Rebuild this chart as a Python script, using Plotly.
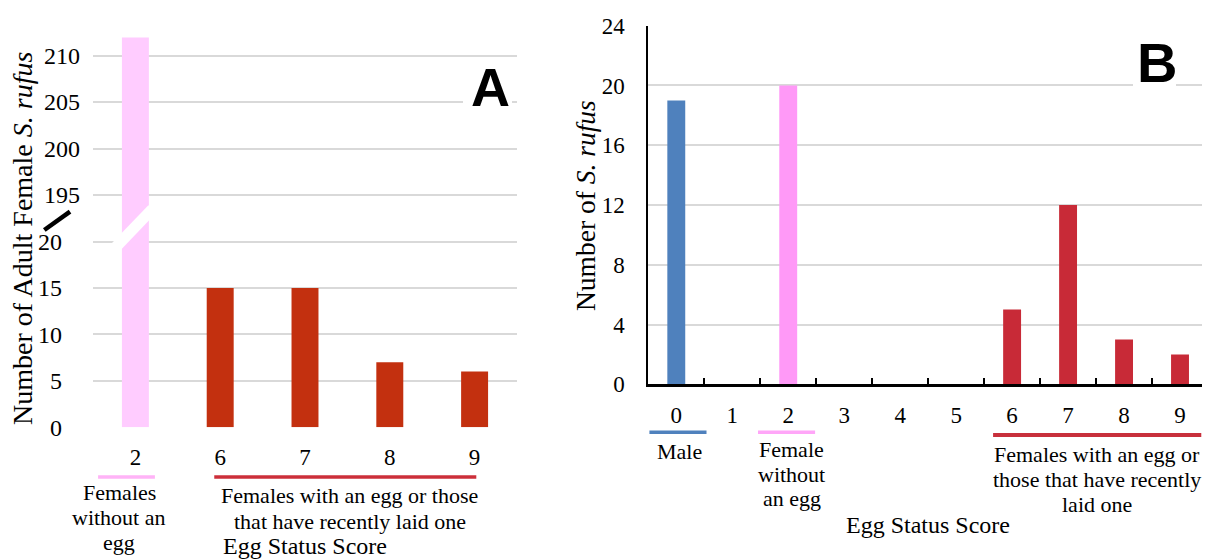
import plotly.graph_objects as go

# ---------------- data ----------------
a_scores = ["2", "6", "7", "8", "9"]
a_counts = [212, 15, 15, 7, 6]
a_groups = ["without", "with", "with", "with", "with"]
a_tick_values = [0, 5, 10, 15, 20, 195, 200, 205, 210]

b_scores = ["0", "1", "2", "3", "4", "5", "6", "7", "8", "9"]
b_counts = [19, 0, 20, 0, 0, 0, 5, 12, 3, 2]
b_groups = ["male", "none", "without", "none", "none", "none", "with", "with", "with", "with"]
b_tick_values = [0, 4, 8, 12, 16, 20, 24]

A_COLORS = {"without": "#FFCCFF", "with": "#C3300F"}
B_COLORS = {"male": "#4F81BD", "without": "#FF99F7", "with": "#C82A37", "none": "#FFFFFF"}

# axis break for panel A: values above 20 jump to 195
BREAK_LOW, BREAK_HIGH, BREAK_STEP = 20, 195, 5


def a_display(v):
    return v if v <= BREAK_LOW else v - (BREAK_HIGH - BREAK_LOW - BREAK_STEP)


# the page body has an 8px margin; size the figure so it fills the window
PAGE_W, PAGE_H, BODY_MARGIN = 1210, 560, 8
W, H = PAGE_W - BODY_MARGIN, PAGE_H - BODY_MARGIN
SERIF = "Liberation Serif"
SANS = "Liberation Sans"


def px(x):
    return (x - BODY_MARGIN) / W


def py(y):
    return 1 - (y - BODY_MARGIN) / H


fig = go.Figure()

fig.add_trace(go.Bar(
    x=a_scores, y=[a_display(v) for v in a_counts],
    marker=dict(color=[A_COLORS[g] for g in a_groups], line=dict(width=0)),
    width=0.318, xaxis="x", yaxis="y", showlegend=False,
))
fig.add_trace(go.Bar(
    x=b_scores, y=b_counts,
    marker=dict(color=[B_COLORS[g] for g in b_groups], line=dict(width=0)),
    width=0.32, xaxis="x2", yaxis="y2", showlegend=False,
))

a_disp_ticks = [a_display(v) for v in a_tick_values]
a_ticktext = [str(v) if v <= BREAK_LOW else "" for v in a_tick_values]

fig.update_layout(
    width=W, height=H,
    margin=dict(l=0, r=0, t=0, b=0, autoexpand=False),
    paper_bgcolor="white", plot_bgcolor="white",
    barmode="overlay",
    font=dict(family=SERIF, color="black"),
    xaxis=dict(
        domain=[px(93), px(517)], anchor="y", automargin=False,
        type="category", categoryorder="array", categoryarray=a_scores,
        range=[-0.5, len(a_scores) - 0.5],
        showgrid=False, showline=False, zeroline=False, ticks="",
        tickfont=dict(family=SERIF, size=23, color="black"),
        ticklabelstandoff=14,
    ),
    yaxis=dict(
        domain=[py(427.3), py(36.7)], anchor="x", automargin=False,
        range=[0, 42.08],
        tickvals=a_disp_ticks, ticktext=a_ticktext,
        showgrid=True, gridcolor="#D9D9D9", gridwidth=1.6,
        showline=False, zeroline=False, ticks="",
        tickfont=dict(family=SERIF, size=24, color="black"),
        ticklabelstandoff=30,
    ),
    xaxis2=dict(
        domain=[px(648.3), px(1208)], anchor="y2", automargin=False,
        type="category", categoryorder="array", categoryarray=b_scores,
        range=[-0.5, len(b_scores) - 0.5],
        showgrid=False, zeroline=False,
        showline=True, linecolor="black", linewidth=2.5,
        ticks="inside", tickson="boundaries", ticklen=7, tickwidth=2, tickcolor="black",
        tickfont=dict(family=SERIF, size=23, color="black"),
        ticklabelstandoff=8,
    ),
    yaxis2=dict(
        domain=[py(384.3), py(25.7)], anchor="x2", automargin=False,
        range=[0, 24], tickvals=b_tick_values,
        showgrid=True, gridcolor="#D9D9D9", gridwidth=1.6,
        showline=True, linecolor="black", linewidth=2, zeroline=False, ticks="",
        tickfont=dict(family=SERIF, size=23, color="black"),
        ticklabelstandoff=17,
    ),
)

shapes = []
# panel A: white break band across the tall bar
shapes.append(dict(type="line", xref="x", yref="y",
                   x0=-0.24, y0=19.33, x1=0.2, y1=23.52,
                   line=dict(color="white", width=11), layer="above"))
# panel A: black break slash on the axis
shapes.append(dict(type="line", xref="paper", yref="paper",
                   x0=px(44.3), y0=py(230), x1=px(70), y1=py(211.7),
                   line=dict(color="black", width=4.5), layer="above"))
# white boxes behind panel letters
shapes.append(dict(type="rect", xref="paper", yref="paper",
                   x0=px(463), x1=px(512), y0=py(105), y1=py(62),
                   fillcolor="white", line=dict(width=0), layer="above"))
shapes.append(dict(type="rect", xref="paper", yref="paper",
                   x0=px(1133), x1=px(1176), y0=py(90), y1=py(33),
                   fillcolor="white", line=dict(width=0), layer="above"))
# group underlines, panel A
shapes.append(dict(type="line", xref="x", yref="paper", x0=-0.44, x1=0.23,
                   y0=py(477), y1=py(477), line=dict(color="#FFB3F7", width=3.5)))
shapes.append(dict(type="line", xref="x", yref="paper", x0=0.93, x1=4.02,
                   y0=py(477), y1=py(477), line=dict(color="#CC2F3A", width=3.5)))
# group underlines, panel B
shapes.append(dict(type="line", xref="x2", yref="paper", x0=-0.48, x1=0.54,
                   y0=py(432.3), y1=py(432.3), line=dict(color="#4F81BD", width=3.5)))
shapes.append(dict(type="line", xref="x2", yref="paper", x0=1.46, x1=2.48,
                   y0=py(432.3), y1=py(432.3), line=dict(color="#FFA6F8", width=3.5)))
shapes.append(dict(type="line", xref="x2", yref="paper", x0=5.66, x1=9.38,
                   y0=py(435), y1=py(435), line=dict(color="#C8303C", width=4)))
fig.update_layout(shapes=shapes)

ann = []


def text(x, y, s, size=22, xref="paper", yref="paper", **kw):
    d = dict(x=x, y=y, xref=xref, yref=yref, text=s, showarrow=False,
             font=dict(family=SERIF, size=size, color="black"),
             xanchor="center", yanchor="middle")
    d.update(kw)
    ann.append(d)


# panel A upper tick labels (above the break)
for v in a_tick_values:
    if v > BREAK_LOW:
        text(px(81.5), a_display(v), str(v), size=24, yref="y", xanchor="right")

# titles
text(px(22.5), py(238.5), "Number of Adult Female <i>S. rufus</i>", size=28, textangle=-90)
text(px(585), py(206), "Number of <i>S. rufus</i>", size=27.5, textangle=-90)
text(0.5, py(545.9), "Egg Status Score", size=24, xref="x domain")
text(0.5, py(525.2), "Egg Status Score", size=24, xref="x2 domain")

# panel A group labels
for s, y in [("Females", 492.6), ("without an", 517.9), ("egg", 542.6)]:
    text(-0.19, py(y), s, xref="x")
for s, y in [("Females with an egg or those", 495.9), ("that have recently laid one", 521.6)]:
    text(2.526, py(y), s, xref="x")

# panel B group labels
text(0.05, py(451.9), "Male", xref="x2")
for s, y in [("Female", 449.9), ("without", 474.3), ("an egg", 498.6)]:
    text(2.06, py(y), s, xref="x2")
for s, y in [("Females with an egg or", 454.9), ("those that have recently", 479.3), ("laid one", 504.3)]:
    text(7.52, py(y), s, xref="x2")

# panel letters
ann.append(dict(x=px(490), y=py(87), xref="paper", yref="paper", text="<b>A</b>",
                showarrow=False, font=dict(family=SANS, size=54, color="black"),
                xanchor="center", yanchor="middle"))
ann.append(dict(x=px(1157), y=py(62.5), xref="paper", yref="paper", text="<b>B</b>",
                showarrow=False, font=dict(family=SANS, size=56, color="black"),
                xanchor="center", yanchor="middle"))

fig.update_layout(annotations=ann)

fig.write_html("out.html")
